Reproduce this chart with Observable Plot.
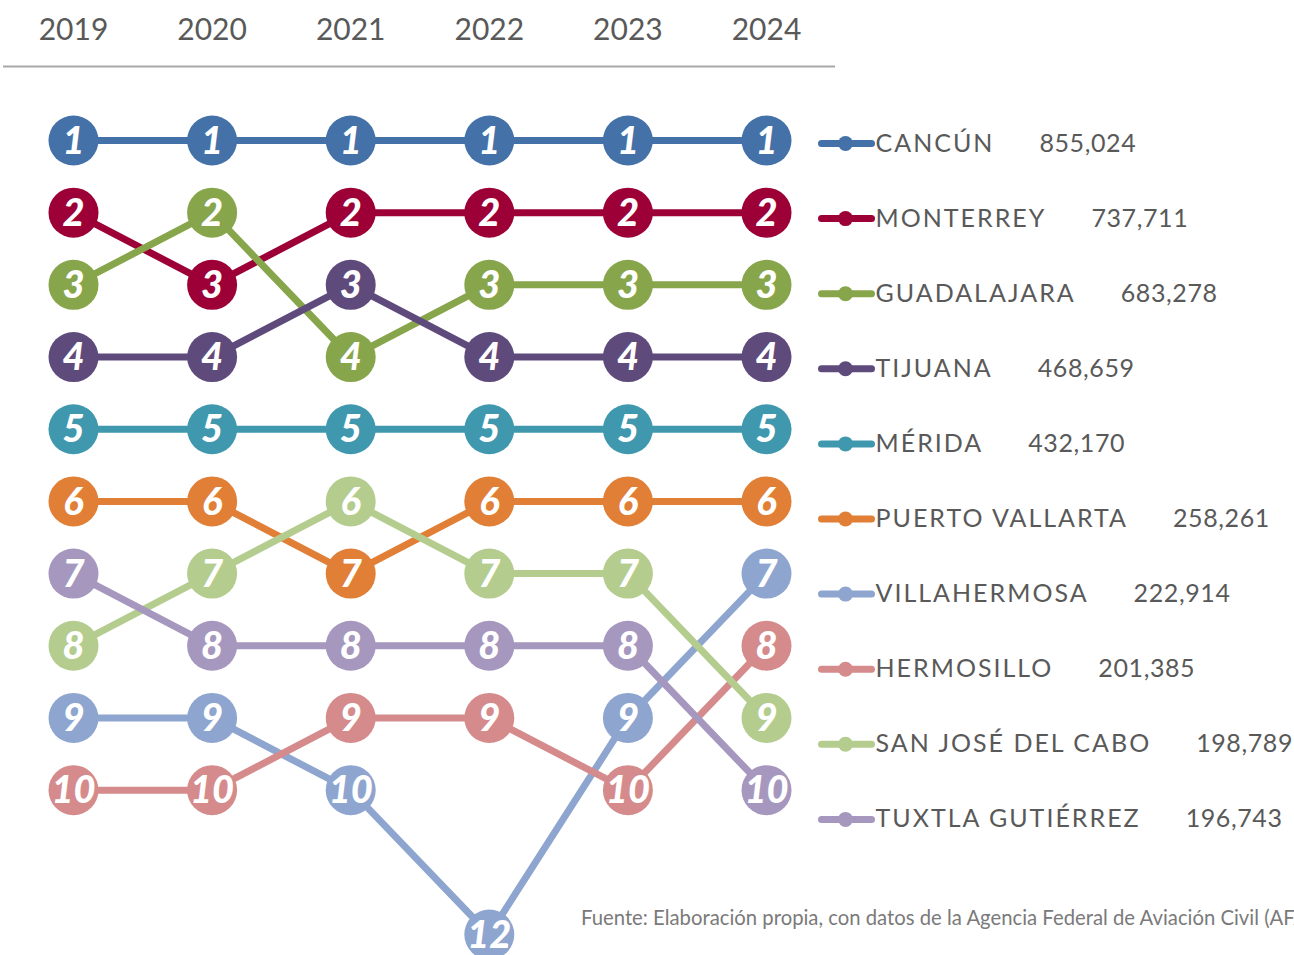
<!DOCTYPE html>
<html>
<head>
<meta charset="utf-8">
<script src="https://cdn.jsdelivr.net/npm/d3@7"></script>
<script src="https://cdn.jsdelivr.net/npm/@observablehq/plot@0.6"></script>
<style>
  html, body { margin: 0; padding: 0; background: #fff; overflow: hidden; }
  #wrap { position: relative; width: 1294px; height: 955px; overflow: hidden; }
  #source { position: absolute; left: 581px; top: 905px; font-family: Lato, sans-serif; font-size: 20.3px; color: #7a7a7a; white-space: nowrap; }
</style>
</head>
<body>
<div id="wrap">
  <div id="chart"></div>
  <div id="source">Fuente: Elaboración propia, con datos de la Agencia Federal de Aviación Civil (AFAC).</div>
</div>
<script>
// ---- Data ----
const years = [2019, 2020, 2021, 2022, 2023, 2024];
const airports = ["CANCÚN", "MONTERREY", "GUADALAJARA", "TIJUANA", "MÉRIDA", "PUERTO VALLARTA", "VILLAHERMOSA", "HERMOSILLO", "SAN JOSÉ DEL CABO", "TUXTLA GUTIÉRREZ"];
const passengers = ["855,024", "737,711", "683,278", "468,659", "432,170", "258,261", "222,914", "201,385", "198,789", "196,743"];
const colors = ["#4471a7", "#9c0036", "#87a54b", "#5f4a7c", "#3f98ae", "#e07f35", "#8ea6cf", "#d58b8c", "#b4cd8f", "#a697bf"];

const rankCancun       = [1, 1, 1, 1, 1, 1];
const rankMonterrey    = [2, 3, 2, 2, 2, 2];
const rankGuadalajara  = [3, 2, 4, 3, 3, 3];
const rankTijuana      = [4, 4, 3, 4, 4, 4];
const rankMerida       = [5, 5, 5, 5, 5, 5];
const rankPuertoVall   = [6, 6, 7, 6, 6, 6];
const rankVillahermosa = [9, 9, 10, 12, 9, 7];
const rankHermosillo   = [10, 10, 9, 9, 10, 8];
const rankSanJose      = [8, 7, 6, 7, 7, 9];
const rankTuxtla       = [7, 8, 8, 8, 8, 10];

const ranks = [rankCancun, rankMonterrey, rankGuadalajara, rankTijuana, rankMerida,
               rankPuertoVall, rankVillahermosa, rankHermosillo, rankSanJose, rankTuxtla];

// ---- Build table ----
const rows = [];
airports.forEach((a, i) => years.forEach((y, j) => rows.push({airport: a, year: y, rank: ranks[i][j]})));

// ---- Layout (pixel positions -> data units) ----
const W = 1294, H = 955;
const xRange = [73, 766], yRange = [140, 934];
const xs = d3.scaleLinear().domain([2019, 2024]).range(xRange);
const ys = d3.scaleLinear().domain([1, 12]).range(yRange);
const X = px => xs.invert(px);
const Y = py => ys.invert(py);

const legendRows = airports.map((a, i) => ({airport: a, value: passengers[i], ly: Y(143 + 75.1 * i)}));

const chart = Plot.plot({
  width: W,
  height: H,
  margin: 0,
  style: {background: "white", overflow: "visible"},
  x: {type: "linear", domain: [2019, 2024], range: xRange, axis: null},
  y: {type: "linear", domain: [1, 12], range: yRange, axis: null},
  color: {domain: airports, range: colors},
  marks: [
    // header
    Plot.ruleY([Y(66)], {x1: X(3), x2: X(835), stroke: "#a8a8a8", strokeWidth: 2}),
    Plot.text(years, {x: d => d, y: Y(30), text: d => String(d), fontSize: 30, fill: "#595959", fontFamily: "Lato, sans-serif"}),
    // bump lines
    Plot.line(rows, {x: "year", y: "rank", z: "airport", stroke: "airport", strokeWidth: 7, strokeLinejoin: "round"}),
    Plot.dot(rows, {x: "year", y: "rank", r: 25, fill: "airport", stroke: "none"}),
    Plot.text(rows, {x: "year", y: "rank", text: d => String(d.rank), fill: "white", fontSize: 38,
      fontWeight: 900, fontStyle: "italic", fontFamily: "Lato, sans-serif", dy: 1}),
    // legend
    Plot.link(legendRows, {x1: X(821), x2: X(871), y1: "ly", y2: "ly", stroke: "airport", strokeWidth: 7, strokeLinecap: "round"}),
    Plot.dot(legendRows, {x: X(845), y: "ly", r: 7.5, fill: "airport", stroke: "none"}),
    Plot.text(legendRows, {x: X(875), y: "ly", text: "airport", textAnchor: "start",
      fontSize: 25, fill: "#595959", fontFamily: "Lato, sans-serif"}),
    Plot.text(legendRows, {x: X(875), y: "ly", text: "value", textAnchor: "start",
      fontSize: 25, fill: "#595959", fontFamily: "Lato, sans-serif"})
  ]
});

document.getElementById("chart").appendChild(chart);

// place each value after its name, as in the reference legend
const texts = Array.from(chart.querySelectorAll("text"));
const nameEls = airports.map(a => texts.find(t => t.textContent === a));
const valueEls = passengers.map(v => texts.find(t => t.textContent === v));
nameEls.forEach(t => t && (t.style.letterSpacing = "2px"));
valueEls.forEach(t => t && (t.style.letterSpacing = "0.6px"));
valueEls.forEach((v, i) => {
  const n = nameEls[i];
  if (!v || !n) return;
  const nb = n.getBBox(), vb = v.getBBox();
  const off = nb.x + nb.width + 45 - vb.x;
  const tr = v.getAttribute("transform") || "";
  v.setAttribute("transform", `translate(${off},0) ${tr}`.trim());
});
</script>
</body>
</html>
